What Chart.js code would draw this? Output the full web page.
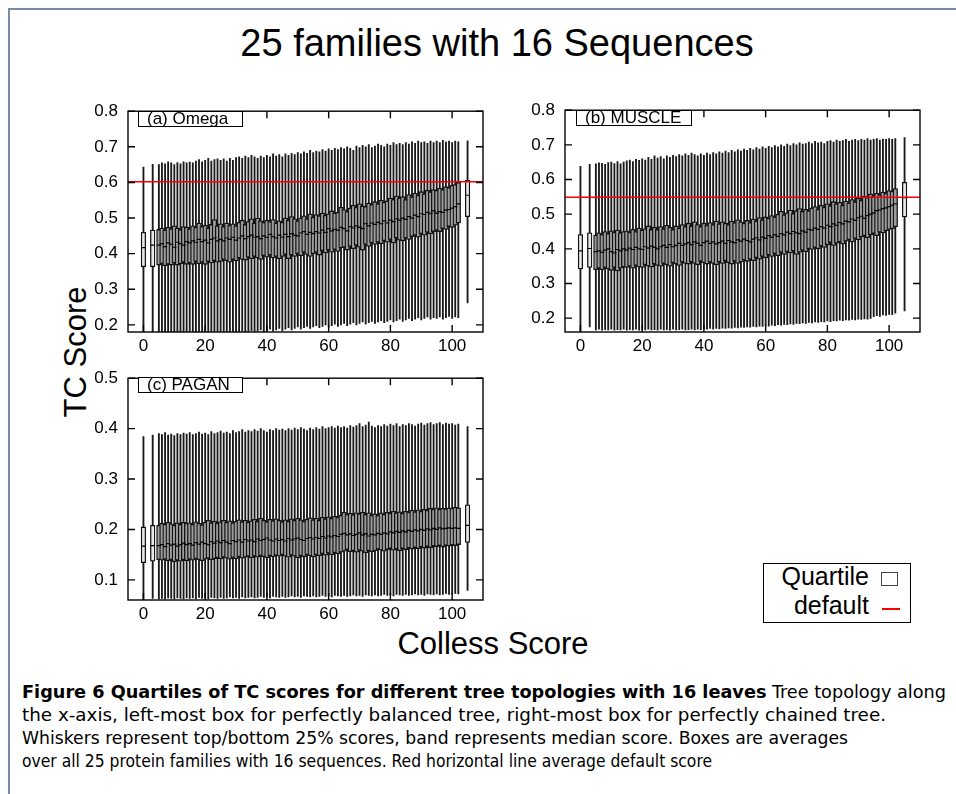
<!DOCTYPE html>
<html>
<head>
<meta charset="utf-8">
<script src="https://cdn.jsdelivr.net/npm/chart.js@4"></script>
<style>
  body { margin: 0; background: #fff; width: 956px; height: 794px; overflow: hidden; position: relative;
         font-family: 'Liberation Sans', Arial, sans-serif; color: #000; }
  .frame { position: absolute; left: 8px; top: 8px; width: 980px; height: 820px;
           border-left: 2px solid #7a8aa2; border-top: 2px solid #7a8aa2; }
  .txt { position: absolute; white-space: nowrap; line-height: normal; }
  .panel { position: absolute; }
  .tag { position: absolute; border: 1px solid #000; background: #fff; font-size: 17px; line-height: 14px;
         height: 14px; padding-left: 8px; box-sizing: content-box; white-space: nowrap; }
  .legend { position: absolute; left: 763px; top: 563px; width: 146px; height: 58px; border: 1px solid #000; }
  .cap { position: absolute; left: 22px; white-space: nowrap; font-size: 18px; line-height: normal;
         font-family: 'DejaVu Sans Condensed', 'Liberation Sans Narrow', 'Liberation Sans', sans-serif;
         transform-origin: 0 0; }
</style>
</head>
<body>
<div class="frame"></div>

<div class="txt" style="left:497px; top:22px; font-size:38px; transform:translateX(-50%);">25 families with 16 Sequences</div>
<div class="txt" style="left:76px; top:352px; font-size:31px; transform:translate(-50%,-50%) rotate(-90deg);">TC Score</div>
<div class="txt" style="left:493px; top:626px; font-size:31px; transform:translateX(-50%);">Colless Score</div>

<div class="panel" style="left:78px; top:91px; width:417px; height:271px;"><canvas id="omegaChart"></canvas></div>
<div class="panel" style="left:515px; top:90px; width:417px; height:272px;"><canvas id="muscleChart"></canvas></div>
<div class="panel" style="left:78px; top:358px; width:417px; height:272px;"><canvas id="paganChart"></canvas></div>

<div class="tag" style="left:138px; top:111px; width:95px;">(a) Omega</div>
<div class="tag" style="left:576px; top:110px; width:106px;">(b) MUSCLE</div>
<div class="tag" style="left:138px; top:377px; width:95px;">(c) PAGAN</div>

<div class="legend">
  <div class="txt" style="right:41px; top:-2px; font-size:25px;">Quartile</div>
  <div class="txt" style="right:41px; top:27px; font-size:25px;">default</div>
  <div style="position:absolute; left:117px; top:8px; width:15px; height:12px; border:1.5px solid #444;"></div>
  <div style="position:absolute; left:118px; top:44px; width:18px; height:1.5px; background:#ff0000;"></div>
</div>

<div class="cap" style="top:681px;" data-w="924"><b>Figure 6 Quartiles of TC scores for different tree topologies with 16 leaves</b> Tree topology along</div>
<div class="cap" style="top:704px;" data-w="864">the x-axis, left-most box for perfectly balanced tree, right-most box for perfectly chained tree.</div>
<div class="cap" style="top:727px;" data-w="826">Whiskers represent top/bottom 25% scores, band represents median score. Boxes are averages</div>
<div class="cap" style="top:750px;" data-w="690">over all 25 protein families with 16 sequences. Red horizontal line average default score</div>

<script>
'use strict';

// Colless score of each tree topology (x position of every box)
let colless = [0, 3, 5, 6, 7, 8, 9, 10, 11, 12, 13, 14, 15, 16, 17, 18, 19, 20, 21, 22, 23, 24,
  25, 26, 27, 28, 29, 30, 31, 32, 33, 34, 35, 36, 37, 38, 39, 40, 41, 42, 43, 44, 45, 46, 47, 48, 49,
  50, 51, 52, 53, 54, 55, 56, 57, 58, 59, 60, 61, 62, 63, 64, 65, 66, 67, 68, 69, 70, 71, 72, 73, 74,
  75, 76, 77, 78, 79, 80, 81, 82, 83, 84, 85, 86, 87, 88, 89, 90, 91, 92, 93, 94, 95, 96, 97, 98, 99,
  100, 101, 102, 105];

let xTicks = [0, 20, 40, 60, 80, 100];

// (a) Omega
let omegaLo = [0.150, 0.150,
  0.160, 0.165, 0.162, 0.168, 0.160, 0.165, 0.170, 0.162, 0.168, 0.165,
  0.170, 0.165, 0.172, 0.168, 0.170, 0.175, 0.168, 0.172, 0.176, 0.170,
  0.174, 0.178, 0.172, 0.176, 0.180, 0.174, 0.178, 0.182, 0.176, 0.180,
  0.184, 0.178, 0.182, 0.186, 0.180, 0.184, 0.188, 0.182, 0.186, 0.190,
  0.184, 0.188, 0.192, 0.186, 0.190, 0.194, 0.188, 0.192, 0.196, 0.190,
  0.194, 0.198, 0.192, 0.196, 0.200, 0.194, 0.198, 0.202, 0.196, 0.200,
  0.204, 0.198, 0.202, 0.206, 0.200, 0.204, 0.208, 0.202, 0.206, 0.210,
  0.204, 0.208, 0.212, 0.206, 0.210, 0.214, 0.208, 0.212, 0.216, 0.210,
  0.214, 0.218, 0.212, 0.216, 0.220, 0.214, 0.218, 0.222, 0.216, 0.220,
  0.218, 0.222, 0.216, 0.220, 0.224, 0.218, 0.222, 0.220,
  0.262];
let omegaQ1 = [0.363, 0.363,
  0.368, 0.372, 0.366, 0.370, 0.368, 0.374, 0.368, 0.372, 0.376, 0.370,
  0.374, 0.370, 0.378, 0.372, 0.376, 0.370, 0.378, 0.374, 0.380, 0.376,
  0.378, 0.384, 0.380, 0.376, 0.384, 0.380, 0.388, 0.384, 0.382, 0.390,
  0.386, 0.392, 0.388, 0.384, 0.394, 0.390, 0.396, 0.388, 0.392, 0.386,
  0.392, 0.398, 0.386, 0.396, 0.392, 0.400, 0.394, 0.404, 0.398, 0.392,
  0.400, 0.404, 0.396, 0.408, 0.402, 0.410, 0.404, 0.412, 0.406, 0.416,
  0.418, 0.410, 0.420, 0.414, 0.424, 0.418, 0.410, 0.426, 0.420, 0.430,
  0.426, 0.432, 0.428, 0.436, 0.432, 0.440, 0.430, 0.444, 0.438, 0.436,
  0.444, 0.440, 0.448, 0.452, 0.446, 0.456, 0.452, 0.460, 0.456, 0.462,
  0.466, 0.462, 0.470, 0.468, 0.476, 0.474, 0.480, 0.486,
  0.504];
let omegaMed = [0.417, 0.424,
  0.424, 0.428, 0.420, 0.430, 0.426, 0.418, 0.432, 0.428, 0.424, 0.434,
  0.430, 0.436, 0.432, 0.440, 0.434, 0.438, 0.430, 0.440, 0.444, 0.436,
  0.440, 0.436, 0.444, 0.440, 0.446, 0.438, 0.444, 0.450, 0.442, 0.448,
  0.452, 0.446, 0.448, 0.442, 0.450, 0.446, 0.454, 0.448, 0.444, 0.452,
  0.446, 0.454, 0.448, 0.456, 0.452, 0.450, 0.458, 0.462, 0.454, 0.460,
  0.456, 0.462, 0.458, 0.466, 0.460, 0.470, 0.464, 0.468, 0.466, 0.474,
  0.470, 0.464, 0.476, 0.472, 0.478, 0.474, 0.470, 0.484, 0.478, 0.486,
  0.482, 0.488, 0.484, 0.492, 0.486, 0.494, 0.490, 0.498, 0.494, 0.500,
  0.496, 0.504, 0.500, 0.508, 0.504, 0.512, 0.510, 0.516, 0.512, 0.520,
  0.514, 0.518, 0.516, 0.522, 0.524, 0.528, 0.532, 0.540,
  0.564];
let omegaQ3 = [0.460, 0.466,
  0.468, 0.472, 0.466, 0.474, 0.470, 0.478, 0.472, 0.468, 0.476, 0.474,
  0.470, 0.478, 0.474, 0.486, 0.476, 0.480, 0.472, 0.482, 0.496, 0.478,
  0.484, 0.476, 0.486, 0.480, 0.484, 0.478, 0.488, 0.494, 0.482, 0.490,
  0.498, 0.486, 0.500, 0.492, 0.488, 0.494, 0.490, 0.496, 0.486, 0.492,
  0.488, 0.500, 0.494, 0.504, 0.498, 0.492, 0.500, 0.506, 0.498, 0.512,
  0.502, 0.510, 0.506, 0.514, 0.508, 0.512, 0.520, 0.514, 0.516, 0.530,
  0.524, 0.518, 0.528, 0.536, 0.530, 0.540, 0.534, 0.532, 0.542, 0.538,
  0.546, 0.540, 0.550, 0.544, 0.548, 0.556, 0.552, 0.562, 0.556, 0.560,
  0.552, 0.566, 0.560, 0.570, 0.564, 0.574, 0.568, 0.578, 0.574, 0.580,
  0.578, 0.584, 0.580, 0.588, 0.586, 0.592, 0.594, 0.600,
  0.606];
let omegaHi = [0.643, 0.651,
  0.650, 0.655, 0.652, 0.658, 0.655, 0.650, 0.656, 0.652, 0.658, 0.655,
  0.657, 0.655, 0.660, 0.664, 0.658, 0.662, 0.668, 0.660, 0.664, 0.666,
  0.662, 0.666, 0.660, 0.668, 0.662, 0.670, 0.672, 0.668, 0.674, 0.670,
  0.676, 0.672, 0.668, 0.674, 0.670, 0.676, 0.672, 0.680, 0.674, 0.678,
  0.672, 0.680, 0.676, 0.682, 0.678, 0.684, 0.680, 0.686, 0.682, 0.690,
  0.684, 0.688, 0.686, 0.692, 0.688, 0.694, 0.690, 0.696, 0.692, 0.698,
  0.694, 0.700, 0.696, 0.690, 0.702, 0.698, 0.704, 0.700, 0.706, 0.698,
  0.702, 0.708, 0.704, 0.700, 0.708, 0.704, 0.712, 0.706, 0.710, 0.706,
  0.712, 0.708, 0.714, 0.710, 0.716, 0.712, 0.714, 0.710, 0.716, 0.712,
  0.716, 0.712, 0.718, 0.714, 0.716, 0.712, 0.716, 0.714,
  0.717];
let omegaDefault = 0.602;
let omegaYTicks = [0.2, 0.3, 0.4, 0.5, 0.6, 0.7, 0.8];

// (b) MUSCLE
let muscleLo = [0.150, 0.175,
  0.166, 0.168, 0.165, 0.167, 0.166, 0.168, 0.165, 0.167, 0.166, 0.168,
  0.165, 0.167, 0.166, 0.168, 0.165, 0.167, 0.166, 0.168, 0.166, 0.167,
  0.165, 0.168, 0.166, 0.167, 0.165, 0.168, 0.166, 0.167, 0.168, 0.166,
  0.167, 0.168, 0.166, 0.168, 0.167, 0.169, 0.168, 0.170, 0.168, 0.170,
  0.169, 0.171, 0.170, 0.172, 0.171, 0.173, 0.172, 0.174, 0.173, 0.175,
  0.174, 0.176, 0.175, 0.177, 0.176, 0.178, 0.177, 0.180, 0.178, 0.181,
  0.180, 0.182, 0.181, 0.183, 0.182, 0.185, 0.184, 0.186, 0.185, 0.188,
  0.186, 0.189, 0.188, 0.190, 0.189, 0.192, 0.190, 0.193, 0.192, 0.194,
  0.193, 0.195, 0.194, 0.196, 0.195, 0.197, 0.196, 0.198, 0.197, 0.199,
  0.204, 0.207, 0.205, 0.209, 0.208, 0.211, 0.210, 0.214,
  0.221];
let muscleQ1 = [0.342, 0.346,
  0.340, 0.344, 0.340, 0.346, 0.342, 0.338, 0.346, 0.336, 0.344, 0.348,
  0.346, 0.350, 0.344, 0.352, 0.348, 0.346, 0.354, 0.350, 0.348, 0.356,
  0.352, 0.350, 0.358, 0.354, 0.350, 0.360, 0.356, 0.352, 0.362, 0.358,
  0.356, 0.362, 0.358, 0.354, 0.364, 0.360, 0.356, 0.362, 0.358, 0.354,
  0.362, 0.358, 0.366, 0.360, 0.356, 0.364, 0.358, 0.362, 0.368, 0.364,
  0.370, 0.366, 0.374, 0.370, 0.378, 0.374, 0.382, 0.378, 0.386, 0.380,
  0.390, 0.384, 0.392, 0.388, 0.394, 0.384, 0.390, 0.396, 0.392, 0.400,
  0.398, 0.404, 0.400, 0.408, 0.404, 0.412, 0.418, 0.410, 0.416, 0.420,
  0.414, 0.422, 0.426, 0.420, 0.430, 0.426, 0.434, 0.438, 0.432, 0.440,
  0.444, 0.438, 0.448, 0.446, 0.452, 0.456, 0.458, 0.464,
  0.492];
let muscleMed = [0.394, 0.401,
  0.392, 0.394, 0.390, 0.396, 0.400, 0.392, 0.388, 0.398, 0.394, 0.400,
  0.396, 0.402, 0.398, 0.404, 0.400, 0.398, 0.406, 0.402, 0.408, 0.404,
  0.400, 0.406, 0.410, 0.404, 0.412, 0.406, 0.410, 0.416, 0.410, 0.414,
  0.418, 0.412, 0.420, 0.416, 0.410, 0.418, 0.422, 0.416, 0.420, 0.414,
  0.418, 0.422, 0.416, 0.424, 0.420, 0.418, 0.426, 0.422, 0.428, 0.424,
  0.420, 0.428, 0.432, 0.426, 0.434, 0.430, 0.438, 0.434, 0.440, 0.436,
  0.444, 0.440, 0.448, 0.444, 0.450, 0.446, 0.444, 0.452, 0.448, 0.456,
  0.454, 0.460, 0.456, 0.464, 0.460, 0.468, 0.464, 0.472, 0.468, 0.476,
  0.472, 0.480, 0.478, 0.486, 0.482, 0.490, 0.494, 0.488, 0.496, 0.500,
  0.504, 0.510, 0.512, 0.516, 0.518, 0.522, 0.526, 0.530,
  0.548];
let muscleQ3 = [0.441, 0.446,
  0.440, 0.446, 0.442, 0.450, 0.444, 0.452, 0.448, 0.454, 0.446, 0.450,
  0.452, 0.448, 0.456, 0.450, 0.460, 0.454, 0.458, 0.466, 0.456, 0.462,
  0.456, 0.464, 0.458, 0.468, 0.462, 0.456, 0.466, 0.460, 0.470, 0.464,
  0.474, 0.466, 0.478, 0.470, 0.464, 0.474, 0.468, 0.476, 0.470, 0.480,
  0.472, 0.478, 0.474, 0.470, 0.480, 0.476, 0.484, 0.478, 0.474, 0.482,
  0.476, 0.486, 0.480, 0.490, 0.484, 0.492, 0.488, 0.496, 0.492, 0.500,
  0.508, 0.498, 0.504, 0.512, 0.502, 0.510, 0.516, 0.508, 0.514, 0.510,
  0.518, 0.522, 0.514, 0.526, 0.520, 0.530, 0.524, 0.536, 0.530, 0.534,
  0.526, 0.538, 0.532, 0.542, 0.536, 0.546, 0.540, 0.552, 0.548, 0.558,
  0.552, 0.560, 0.556, 0.564, 0.560, 0.568, 0.566, 0.574,
  0.592];
let muscleHi = [0.638, 0.644,
  0.645, 0.648, 0.647, 0.644, 0.649, 0.650, 0.646, 0.652, 0.645, 0.650,
  0.654, 0.656, 0.652, 0.658, 0.655, 0.660, 0.656, 0.664, 0.658, 0.668,
  0.662, 0.666, 0.660, 0.668, 0.664, 0.670, 0.666, 0.672, 0.668, 0.674,
  0.670, 0.676, 0.672, 0.668, 0.674, 0.670, 0.676, 0.672, 0.678, 0.674,
  0.680, 0.676, 0.682, 0.678, 0.684, 0.680, 0.686, 0.682, 0.688, 0.684,
  0.690, 0.686, 0.692, 0.688, 0.694, 0.690, 0.696, 0.692, 0.698, 0.694,
  0.700, 0.696, 0.702, 0.698, 0.704, 0.700, 0.706, 0.702, 0.704, 0.708,
  0.704, 0.710, 0.706, 0.708, 0.704, 0.710, 0.712, 0.708, 0.714, 0.710,
  0.712, 0.716, 0.710, 0.714, 0.716, 0.712, 0.716, 0.714, 0.718, 0.714,
  0.716, 0.718, 0.714, 0.717, 0.716, 0.718, 0.716, 0.718,
  0.721];
let muscleDefault = 0.549;
let muscleYTicks = [0.2, 0.3, 0.4, 0.5, 0.6, 0.7, 0.8];

// (c) PAGAN
let paganLo = [0.050, 0.063,
  0.062, 0.063, 0.062, 0.064, 0.063, 0.062, 0.064, 0.063, 0.062, 0.064,
  0.063, 0.064, 0.062, 0.065, 0.063, 0.064, 0.062, 0.065, 0.064, 0.063,
  0.065, 0.063, 0.064, 0.066, 0.064, 0.065, 0.063, 0.066, 0.064, 0.065,
  0.066, 0.064, 0.065, 0.067, 0.065, 0.066, 0.064, 0.067, 0.066, 0.065,
  0.067, 0.065, 0.066, 0.068, 0.066, 0.067, 0.065, 0.068, 0.067, 0.066,
  0.068, 0.066, 0.067, 0.069, 0.067, 0.068, 0.066, 0.069, 0.068, 0.067,
  0.069, 0.067, 0.068, 0.070, 0.068, 0.069, 0.067, 0.070, 0.069, 0.068,
  0.070, 0.068, 0.069, 0.071, 0.069, 0.070, 0.068, 0.071, 0.070, 0.069,
  0.071, 0.069, 0.070, 0.072, 0.070, 0.071, 0.069, 0.072, 0.071, 0.070,
  0.072, 0.070, 0.071, 0.073, 0.071, 0.072, 0.073, 0.072,
  0.079];
let paganQ1 = [0.134, 0.137,
  0.140, 0.139, 0.141, 0.138, 0.140, 0.136, 0.139, 0.137, 0.140, 0.138,
  0.141, 0.139, 0.142, 0.140, 0.138, 0.141, 0.143, 0.140, 0.142, 0.144,
  0.142, 0.145, 0.143, 0.141, 0.144, 0.142, 0.146, 0.143, 0.145, 0.147,
  0.144, 0.147, 0.145, 0.148, 0.146, 0.144, 0.148, 0.146, 0.149, 0.147,
  0.150, 0.147, 0.145, 0.149, 0.147, 0.144, 0.148, 0.146, 0.150, 0.148,
  0.146, 0.150, 0.148, 0.152, 0.149, 0.153, 0.150, 0.154, 0.152, 0.155,
  0.157, 0.160, 0.156, 0.158, 0.155, 0.159, 0.157, 0.154, 0.158, 0.156,
  0.158, 0.161, 0.159, 0.157, 0.160, 0.162, 0.159, 0.161, 0.158, 0.162,
  0.160, 0.163, 0.161, 0.164, 0.162, 0.165, 0.163, 0.166, 0.164, 0.167,
  0.166, 0.168, 0.165, 0.168, 0.167, 0.169, 0.168, 0.170,
  0.174];
let paganMed = [0.167, 0.168,
  0.168, 0.170, 0.166, 0.172, 0.169, 0.171, 0.167, 0.170, 0.173, 0.170,
  0.172, 0.169, 0.174, 0.171, 0.175, 0.172, 0.170, 0.176, 0.173, 0.177,
  0.174, 0.178, 0.175, 0.172, 0.178, 0.176, 0.179, 0.175, 0.180, 0.177,
  0.179, 0.176, 0.181, 0.178, 0.180, 0.183, 0.179, 0.177, 0.181, 0.178,
  0.180, 0.177, 0.182, 0.179, 0.181, 0.183, 0.180, 0.178, 0.182, 0.184,
  0.181, 0.184, 0.182, 0.186, 0.183, 0.187, 0.185, 0.188, 0.186, 0.190,
  0.192, 0.189, 0.191, 0.188, 0.190, 0.193, 0.189, 0.191, 0.187, 0.190,
  0.189, 0.192, 0.190, 0.193, 0.191, 0.195, 0.193, 0.196, 0.194, 0.197,
  0.195, 0.198, 0.196, 0.199, 0.197, 0.200, 0.198, 0.201, 0.199, 0.202,
  0.200, 0.203, 0.201, 0.202, 0.203, 0.202, 0.203, 0.202,
  0.208];
let paganQ3 = [0.205, 0.208,
  0.208, 0.212, 0.210, 0.214, 0.211, 0.208, 0.213, 0.210, 0.214, 0.212,
  0.213, 0.210, 0.215, 0.212, 0.209, 0.214, 0.218, 0.213, 0.216, 0.212,
  0.215, 0.218, 0.214, 0.217, 0.213, 0.216, 0.219, 0.215, 0.218, 0.214,
  0.217, 0.220, 0.216, 0.222, 0.218, 0.215, 0.220, 0.217, 0.221, 0.218,
  0.215, 0.219, 0.216, 0.221, 0.218, 0.222, 0.219, 0.216, 0.220, 0.223,
  0.219, 0.222, 0.218, 0.224, 0.221, 0.225, 0.222, 0.226, 0.224, 0.228,
  0.234, 0.230, 0.232, 0.229, 0.233, 0.231, 0.234, 0.230, 0.233, 0.228,
  0.231, 0.228, 0.233, 0.230, 0.234, 0.232, 0.236, 0.233, 0.235, 0.232,
  0.236, 0.234, 0.238, 0.235, 0.239, 0.236, 0.240, 0.238, 0.242, 0.240,
  0.243, 0.240, 0.242, 0.241, 0.243, 0.242, 0.244, 0.243,
  0.249];
let paganHi = [0.384, 0.387,
  0.390, 0.388, 0.392, 0.387, 0.389, 0.386, 0.390, 0.388, 0.391, 0.389,
  0.392, 0.388, 0.390, 0.393, 0.389, 0.391, 0.388, 0.394, 0.390, 0.392,
  0.395, 0.391, 0.393, 0.390, 0.396, 0.392, 0.394, 0.398, 0.393, 0.396,
  0.394, 0.398, 0.395, 0.400, 0.396, 0.393, 0.398, 0.396, 0.400, 0.397,
  0.399, 0.396, 0.400, 0.397, 0.401, 0.398, 0.402, 0.399, 0.396, 0.401,
  0.398, 0.402, 0.399, 0.404, 0.400, 0.402, 0.404, 0.401, 0.405, 0.402,
  0.404, 0.401, 0.406, 0.403, 0.406, 0.410, 0.404, 0.407, 0.413, 0.405,
  0.402, 0.406, 0.404, 0.408, 0.405, 0.409, 0.406, 0.410, 0.404, 0.408,
  0.406, 0.410, 0.408, 0.405, 0.409, 0.411, 0.407, 0.410, 0.412, 0.408,
  0.410, 0.412, 0.408, 0.411, 0.409, 0.410, 0.407, 0.409,
  0.404];
let paganDefault = null;
let paganYTicks = [0.1, 0.2, 0.3, 0.4, 0.5];

Chart.defaults.font.family = "'Liberation Sans', Arial, sans-serif";
Chart.defaults.font.size = 17;
Chart.defaults.color = '#000';
Chart.defaults.animation = false;

// gnuplot style box with inward ticks on all four sides
let frameTicks = {
  id: 'frameTicks',
  afterDatasetsDraw(chart) {
    let ctx = chart.ctx;
    let a = chart.chartArea;
    let x = chart.scales.x;
    let y = chart.scales.y;
    ctx.save();
    ctx.strokeStyle = '#000';
    ctx.lineWidth = 1.4;
    ctx.strokeRect(a.left, a.top, a.right - a.left, a.bottom - a.top);
    ctx.beginPath();
    x.ticks.forEach(function (t) {
      let px = x.getPixelForValue(t.value);
      ctx.moveTo(px, a.bottom);
      ctx.lineTo(px, a.bottom - 7);
      ctx.moveTo(px, a.top);
      ctx.lineTo(px, a.top + 7);
    });
    y.ticks.forEach(function (t) {
      let py = y.getPixelForValue(t.value);
      ctx.moveTo(a.left, py);
      ctx.lineTo(a.left + 7, py);
      ctx.moveTo(a.right, py);
      ctx.lineTo(a.right - 7, py);
    });
    ctx.stroke();
    ctx.restore();
  }
};

// boxes packed tightly against their neighbours print darker than lone ones
function boxFill(ctx) {
  let i = ctx.dataIndex;
  let prev = i > 0 ? colless[i] - colless[i - 1] : 99;
  let next = i < colless.length - 1 ? colless[i + 1] - colless[i] : 99;
  return Math.min(prev, next) > 1 ? '#e8e8e8' : '#9c9c9c';
}

function renderPanel(canvasId, lo, q1, med, q3, hi, yMin, yMax, yTicks, defaultScore) {
  let xMin = -5;
  let xMax = 110;
  let datasets = [];

  if (defaultScore !== null) {
    datasets.push({
      type: 'line',
      data: [{ x: xMin, y: defaultScore }, { x: xMax, y: defaultScore }],
      borderColor: '#ff0000',
      borderWidth: 1.5,
      pointRadius: 0
    });
  }
  // median band
  datasets.push({
    type: 'line',
    data: colless.map((c, i) => ({ x: c, y: med[i] })),
    showLine: false,
    pointStyle: 'line',
    pointRadius: 2.2,
    pointBorderWidth: 1.2,
    pointBorderColor: '#000',
    pointBackgroundColor: '#000'
  });
  // quartile boxes
  datasets.push({
    type: 'bar',
    data: colless.map((c, i) => ({ x: c, y: [q1[i], q3[i]] })),
    backgroundColor: boxFill,
    borderColor: '#111',
    borderWidth: 1.3,
    borderSkipped: false,
    barThickness: 4.6,
    grouped: false
  });
  // whiskers
  datasets.push({
    type: 'bar',
    data: colless.map((c, i) => ({ x: c, y: [lo[i], hi[i]] })),
    backgroundColor: '#1a1a1a',
    borderWidth: 0,
    barThickness: 1.2,
    grouped: false
  });

  new Chart(document.getElementById(canvasId), {
    type: 'bar',
    data: { datasets: datasets },
    options: {
      responsive: true,
      maintainAspectRatio: false,
      layout: { padding: { top: 12, right: 12, left: 0, bottom: 0 }, autoPadding: false },
      plugins: { legend: { display: false }, tooltip: { enabled: false } },
      scales: {
        x: {
          type: 'linear',
          min: xMin,
          max: xMax,
          offset: false,
          grid: { display: false, drawTicks: false },
          border: { display: false },
          afterBuildTicks: s => { s.ticks = xTicks.map(v => ({ value: v })); },
          afterFit: s => { s.height = 30; },
          ticks: { padding: 4, maxRotation: 0, autoSkip: false, callback: v => String(v) }
        },
        y: {
          type: 'linear',
          min: yMin,
          max: yMax,
          grid: { display: false, drawTicks: false },
          border: { display: false },
          afterBuildTicks: s => { s.ticks = yTicks.map(v => ({ value: v })); },
          afterFit: s => { s.width = 50; },
          ticks: { padding: 10, autoSkip: false, callback: v => v.toFixed(1) }
        }
      }
    },
    plugins: [frameTicks]
  });
}

renderPanel('omegaChart', omegaLo, omegaQ1, omegaMed, omegaQ3, omegaHi, 0.18, 0.8, omegaYTicks, omegaDefault);
renderPanel('muscleChart', muscleLo, muscleQ1, muscleMed, muscleQ3, muscleHi, 0.16, 0.8, muscleYTicks, muscleDefault);
renderPanel('paganChart', paganLo, paganQ1, paganMed, paganQ3, paganHi, 0.06, 0.5, paganYTicks, paganDefault);

// squeeze each caption line to its column width
document.querySelectorAll('.cap').forEach(function (el) {
  let w = el.getBoundingClientRect().width;
  el.style.transform = 'scaleX(' + (el.dataset.w / w) + ')';
});
</script>
</body>
</html>
